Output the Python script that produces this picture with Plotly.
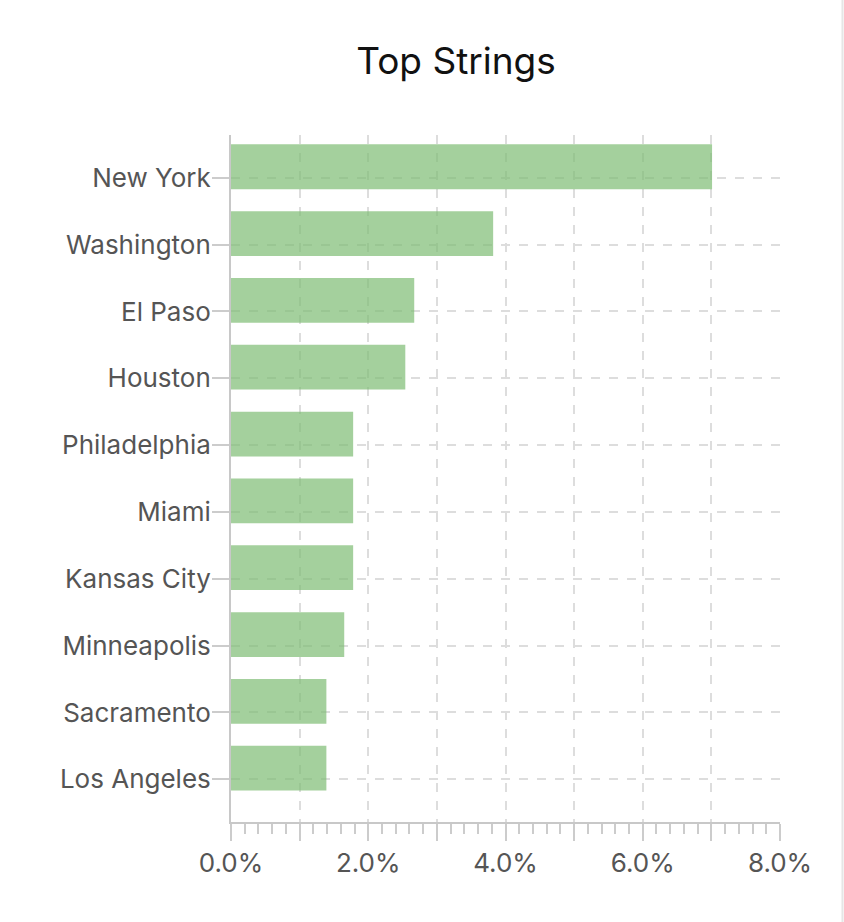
import plotly.graph_objects as go

cities = ["New York", "Washington", "El Paso", "Houston", "Philadelphia",
          "Miami", "Kansas City", "Minneapolis", "Sacramento", "Los Angeles"]
shares = [0.0701, 0.0382, 0.0267, 0.0254, 0.0178,
          0.0178, 0.0178, 0.0165, 0.0139, 0.0139]
tick_vals = [0, 0.01, 0.02, 0.03, 0.04, 0.05, 0.06, 0.07, 0.08]
tick_text = ["0.0%", "", "2.0%", "", "4.0%", "", "6.0%", "", "8.0%"]

W, H = 844, 922
ML, MR, MT, MB = 231, 64, 135, 100
pw = W - ML - MR
ph = H - MT - MB

fig = go.Figure(go.Bar(
    x=shares, y=cities, orientation="h",
    width=0.67, offset=-0.17,
    marker=dict(color="rgba(126,188,116,0.7)", line=dict(width=0)),
    hoverinfo="x+y",
))

fig.update_layout(
    width=W, height=H,
    margin=dict(l=ML, r=MR, t=MT, b=MB, pad=0),
    paper_bgcolor="white", plot_bgcolor="white",
    font=dict(family="Inter, Roboto, sans-serif", size=26, color="#555555"),
    title=dict(text="Top Strings", x=456 / W, xanchor="center",
               y=1 - 61 / H, yanchor="middle",
               font=dict(size=37, color="#111111")),
    showlegend=False,
    shapes=[dict(type="line", xref="paper", yref="paper",
                 x0=(842.5 - ML) / pw, x1=(842.5 - ML) / pw,
                 y0=-MB / ph, y1=1 + MT / ph,
                 line=dict(color="#e6e6e6", width=2))],
)

fig.update_xaxes(
    range=[0, 0.08],
    tickmode="array", tickvals=tick_vals, ticktext=tick_text,
    ticks="outside", ticklen=17, tickcolor="#cccccc", tickwidth=2,
    showline=True, linecolor="#c8c8c8", linewidth=2,
    showgrid=True, gridcolor="#dddddd", griddash="dash", gridwidth=2,
    zeroline=False,
    minor=dict(dtick=0.002, ticks="outside", ticklen=10,
               tickcolor="#cccccc", tickwidth=2, showgrid=False),
    tickfont=dict(size=26, color="#555555"),
)

fig.update_yaxes(
    categoryorder="array", categoryarray=cities[::-1],
    range=[-0.64, 9.64],
    ticks="outside", ticklen=17, tickcolor="#cccccc", tickwidth=2,
    showline=True, linecolor="#c8c8c8", linewidth=2,
    showgrid=True, gridcolor="#dddddd", griddash="dash", gridwidth=2,
    zeroline=False,
    ticklabelstandoff=-4,
    tickfont=dict(size=26, color="#555555"),
)

fig.write_html("out.html")
